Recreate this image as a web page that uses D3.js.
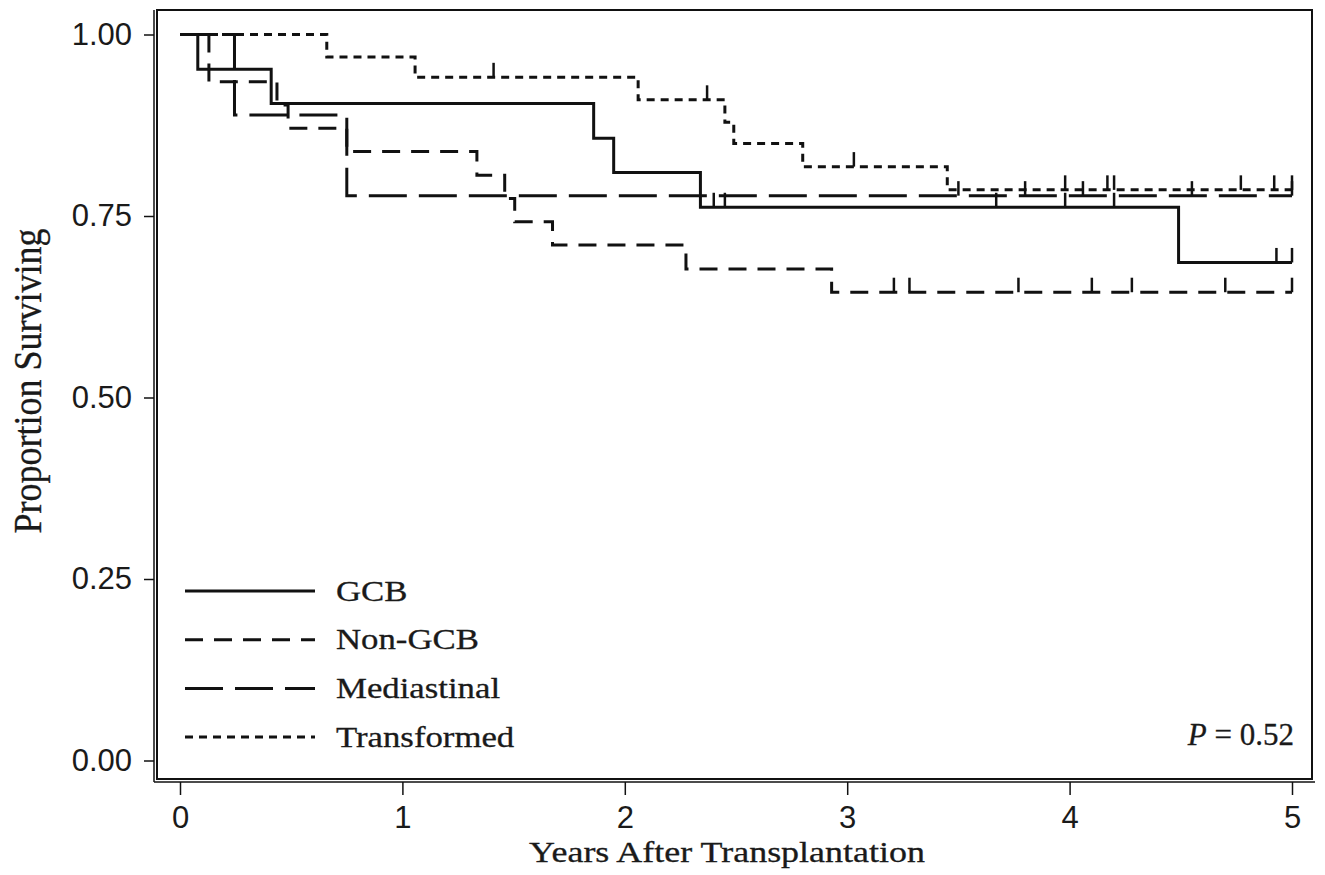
<!DOCTYPE html>
<html>
<head>
<meta charset="utf-8">
<script src="https://cdn.jsdelivr.net/npm/d3@7"></script>
<style>
  html, body { margin: 0; padding: 0; background: #fff; }
  svg { display: block; }
</style>
</head>
<body>
<div id="chart"></div>
<script>
// Kaplan-Meier step data (years, proportion surviving)
const groups = ['GCB', 'Non-GCB', 'Mediastinal', 'Transformed'];

const gcbTimes = [0, 0.08, 0.41, 1.86, 1.95, 2.34, 4.49, 5.0];
const gcbSurv = [1.0, 0.952, 0.905, 0.857, 0.810, 0.762, 0.686, 0.686];
const gcbCensor = [2.40, 2.45, 3.67, 3.98, 4.20, 4.93, 5.0];

const nonGcbTimes = [0, 0.13, 0.436, 0.486, 0.75, 1.335, 1.46, 1.505, 1.675, 2.275, 2.93, 5.0];
const nonGcbSurv = [1.0, 0.935, 0.903, 0.871, 0.839, 0.806, 0.774, 0.742, 0.710, 0.677, 0.645, 0.645];
const nonGcbCensor = [3.21, 3.28, 3.77, 4.10, 4.28, 4.70, 5.0];

const medTimes = [0, 0.245, 0.75, 5.0];
const medSurv = [1.0, 0.889, 0.778, 0.778];
const medCensor = [3.50, 3.80, 4.06, 4.55, 5.0];

const transTimes = [0, 0.66, 1.057, 2.06, 2.45, 2.49, 2.80, 3.45, 5.0];
const transSurv = [1.0, 0.969, 0.941, 0.910, 0.879, 0.850, 0.818, 0.786, 0.786];
const transCensor = [1.41, 2.37, 3.03, 3.98, 4.17, 4.20, 4.77, 4.92, 5.0];

const xTicks = [0, 1, 2, 3, 4, 5];
const yTicks = [0, 0.25, 0.5, 0.75, 1.0];
const pText = '0.52';

const dashes = { 'GCB': null, 'Non-GCB': '18,11', 'Mediastinal': '38,12', 'Transformed': '8,6' };

const series = [
  { name: 'GCB', t: gcbTimes, s: gcbSurv, c: gcbCensor },
  { name: 'Non-GCB', t: nonGcbTimes, s: nonGcbSurv, c: nonGcbCensor },
  { name: 'Mediastinal', t: medTimes, s: medSurv, c: medCensor },
  { name: 'Transformed', t: transTimes, s: transSurv, c: transCensor }
];

const width = 1325, height = 875;
const ink = '#111';
const serif = '"Liberation Serif", "Times New Roman", serif';

const svg = d3.select('#chart').append('svg')
  .attr('width', width)
  .attr('height', height);

const x = d3.scaleLinear().domain([0, 5]).range([180, 1292]);
const y = d3.scaleLinear().domain([0, 1]).range([760.5, 34.5]);

// plot region frame + outer axis lines
svg.append('rect')
  .attr('x', 157).attr('y', 10)
  .attr('width', 1312 - 157).attr('height', 779 - 10)
  .attr('fill', 'none').attr('stroke', ink).attr('stroke-width', 2);

svg.append('line')
  .attr('x1', 154).attr('x2', 154).attr('y1', 10).attr('y2', 782)
  .attr('stroke', ink).attr('stroke-width', 1.5);
svg.append('line')
  .attr('x1', 154).attr('x2', 1315).attr('y1', 782).attr('y2', 782)
  .attr('stroke', ink).attr('stroke-width', 1.5);

// y axis
const yAxis = svg.append('g').attr('transform', 'translate(154,0)')
  .call(d3.axisLeft(y).tickValues(yTicks).tickFormat(d3.format('.2f')).tickSize(10).tickPadding(12));
// x axis
const xAxis = svg.append('g').attr('transform', 'translate(0,782)')
  .call(d3.axisBottom(x).tickValues(xTicks).tickFormat(d3.format('d')).tickSize(13).tickPadding(11));

[yAxis, xAxis].forEach(a => {
  a.select('.domain').remove();
  a.selectAll('.tick line').attr('stroke', ink).attr('stroke-width', 1.5);
  a.selectAll('.tick text')
    .attr('fill', '#1a1a1a')
    .style('font-family', '"Liberation Sans", Arial, sans-serif')
    .style('font-size', '31px');
});

// axis titles
svg.append('text')
  .attr('transform', 'translate(727,862) scale(1.24,1)')
  .attr('text-anchor', 'middle')
  .attr('fill', '#1a1a1a')
  .attr('stroke', '#1a1a1a').attr('stroke-width', 0.3)
  .style('font-family', serif)
  .style('font-size', '29px')
  .text('Years After Transplantation');

svg.append('text')
  .attr('transform', 'translate(41,381) scale(1.12,1) rotate(-90)')
  .attr('text-anchor', 'middle')
  .attr('fill', '#1a1a1a')
  .attr('stroke', '#1a1a1a').attr('stroke-width', 0.3)
  .style('font-family', serif)
  .style('font-size', '36px')
  .text('Proportion Surviving');

// curves
const line = d3.line()
  .x(d => x(d[0]))
  .y(d => y(d[1]))
  .curve(d3.curveStepAfter);

function survAt(sr, t) {
  let v = sr.s[0];
  for (let i = 0; i < sr.t.length; i++) if (sr.t[i] <= t) v = sr.s[i];
  return v;
}

const curves = svg.append('g');
series.forEach(sr => {
  const pts = sr.t.map((t, i) => [t, sr.s[i]]);
  curves.append('path')
    .attr('d', line(pts))
    .attr('fill', 'none')
    .attr('stroke', ink)
    .attr('stroke-width', 3)
    .attr('stroke-dasharray', dashes[sr.name]);

  curves.selectAll(null)
    .data(sr.c)
    .enter()
    .append('line')
    .attr('x1', d => x(d)).attr('x2', d => x(d))
    .attr('y1', d => y(survAt(sr, d)))
    .attr('y2', d => y(survAt(sr, d) + 0.02))
    .attr('stroke', ink)
    .attr('stroke-width', 2.5);
});

// legend
const legend = svg.append('g');
groups.forEach((g, i) => {
  const ly = 591 + i * 48.7;
  legend.append('line')
    .attr('x1', 185).attr('x2', 315)
    .attr('y1', ly).attr('y2', ly)
    .attr('stroke', ink).attr('stroke-width', 3)
    .attr('stroke-dasharray', dashes[g]);
  legend.append('text')
    .attr('transform', 'translate(336,' + (ly + 9.5) + ') scale(1.22,1)')
    .attr('fill', '#1a1a1a')
    .attr('stroke', '#1a1a1a').attr('stroke-width', 0.3)
    .style('font-family', serif)
    .style('font-size', '28.5px')
    .text(g);
});

// p-value
const pt = svg.append('text')
  .attr('x', 1294).attr('y', 745)
  .attr('text-anchor', 'end')
  .attr('fill', '#1a1a1a')
  .attr('stroke', '#1a1a1a').attr('stroke-width', 0.3)
  .style('font-family', serif)
  .style('font-size', '31px');
pt.append('tspan').style('font-style', 'italic').text('P');
pt.append('tspan').text(' = ' + pText);
</script>
</body>
</html>
